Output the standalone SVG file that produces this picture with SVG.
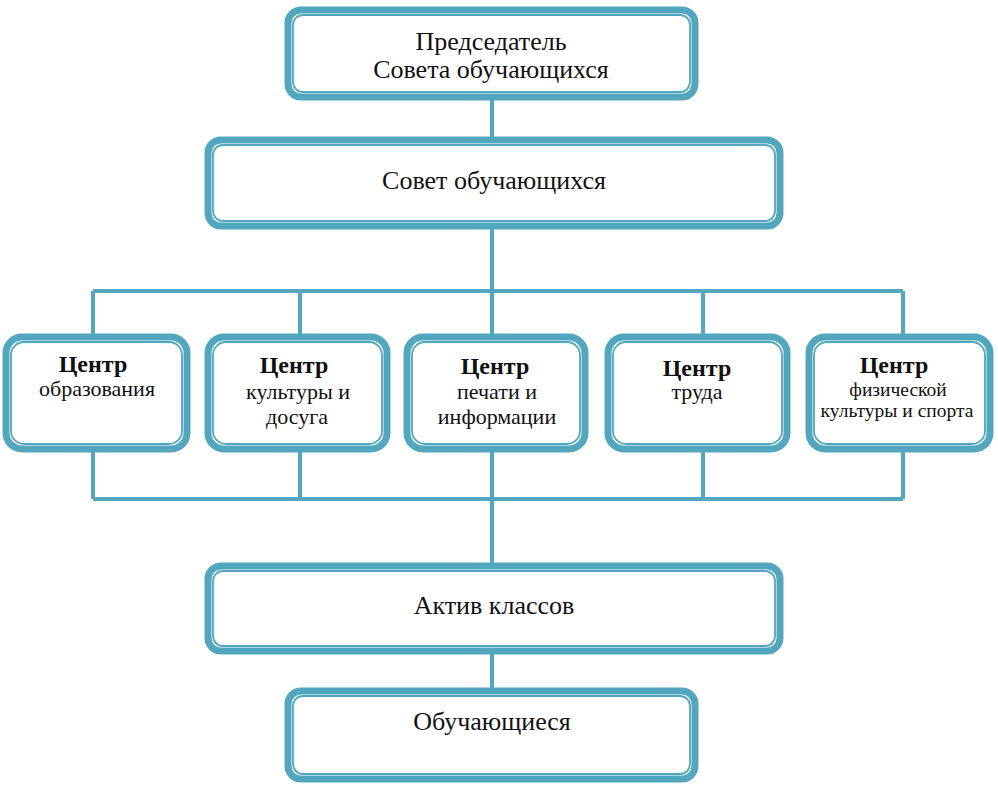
<svg xmlns="http://www.w3.org/2000/svg" width="998" height="792" viewBox="0 0 998 792">
<style>
.o{fill:#fff;stroke:#52a7bf;stroke-width:7}
.i{fill:none;stroke:#52a7bf;stroke-width:1.8}
.c{fill:none;stroke:#52a7bf;stroke-width:4}
text{font-family:"Liberation Serif","Times New Roman",serif;fill:#111;text-anchor:middle}
.t{font-size:26px}
.b{font-size:24px;font-weight:bold}
.s{font-size:22px}
.x{font-size:19.5px}
</style>
<rect width="998" height="792" fill="#fff"/>
<g id="connectors">
<path class="c" d="M492 97V140M492 226V291M93 291H903M93 291V337M300 291V337M492 291V337M703 291V337M903 291V337M93 449V499M300 449V499M492 449V499M703 449V499M903 449V499M93 499H903M492 499V566M492 651V691"/>
</g>
<g id="chair">
<rect class="o" x="288" y="10" width="407" height="87" rx="13"/>
<rect class="i" x="293" y="15" width="397" height="77" rx="10"/>
<text class="t" x="491" y="50">Председатель</text>
<text class="t" x="491" y="78">Совета обучающихся</text>
</g>
<g id="council">
<rect class="o" x="208" y="140" width="572" height="86" rx="13"/>
<rect class="i" x="213" y="145" width="562" height="76" rx="10"/>
<text class="t" x="494" y="189">Совет обучающихся</text>
</g>
<g id="c1">
<rect class="o" x="6" y="337" width="181" height="112" rx="16"/>
<rect class="i" x="11" y="342" width="171" height="102" rx="13"/>
<text class="b" x="93" y="372">Центр</text>
<text class="s" x="97" y="396">образования</text>
</g>
<g id="c2">
<rect class="o" x="208" y="337" width="179" height="112" rx="16"/>
<rect class="i" x="213" y="342" width="169" height="102" rx="13"/>
<text class="b" x="294" y="373">Центр</text>
<text class="s" x="298" y="399">культуры и</text>
<text class="s" x="297" y="424">досуга</text>
</g>
<g id="c3">
<rect class="o" x="407" y="337" width="178" height="112" rx="16"/>
<rect class="i" x="412" y="342" width="168" height="102" rx="13"/>
<text class="b" x="495" y="374">Центр</text>
<text class="s" x="497" y="399">печати и</text>
<text class="s" x="497" y="424">информации</text>
</g>
<g id="c4">
<rect class="o" x="608" y="337" width="179" height="112" rx="16"/>
<rect class="i" x="613" y="342" width="169" height="102" rx="13"/>
<text class="b" x="697" y="376">Центр</text>
<text class="s" x="697" y="399">труда</text>
</g>
<g id="c5">
<rect class="o" x="809" y="337" width="181" height="112" rx="16"/>
<rect class="i" x="814" y="342" width="171" height="102" rx="13"/>
<text class="b" x="894" y="373">Центр</text>
<text class="x" x="898" y="396">физической</text>
<text class="x" x="897" y="417">культуры и спорта</text>
</g>
<g id="class-active">
<rect class="o" x="208" y="566" width="572" height="85" rx="13"/>
<rect class="i" x="213" y="571" width="562" height="75" rx="10"/>
<text class="t" x="494" y="614">Актив классов</text>
</g>
<g id="students">
<rect class="o" x="288" y="691" width="407" height="88" rx="13"/>
<rect class="i" x="293" y="696" width="397" height="78" rx="10"/>
<text class="t" x="492" y="730">Обучающиеся</text>
</g>
</svg>
